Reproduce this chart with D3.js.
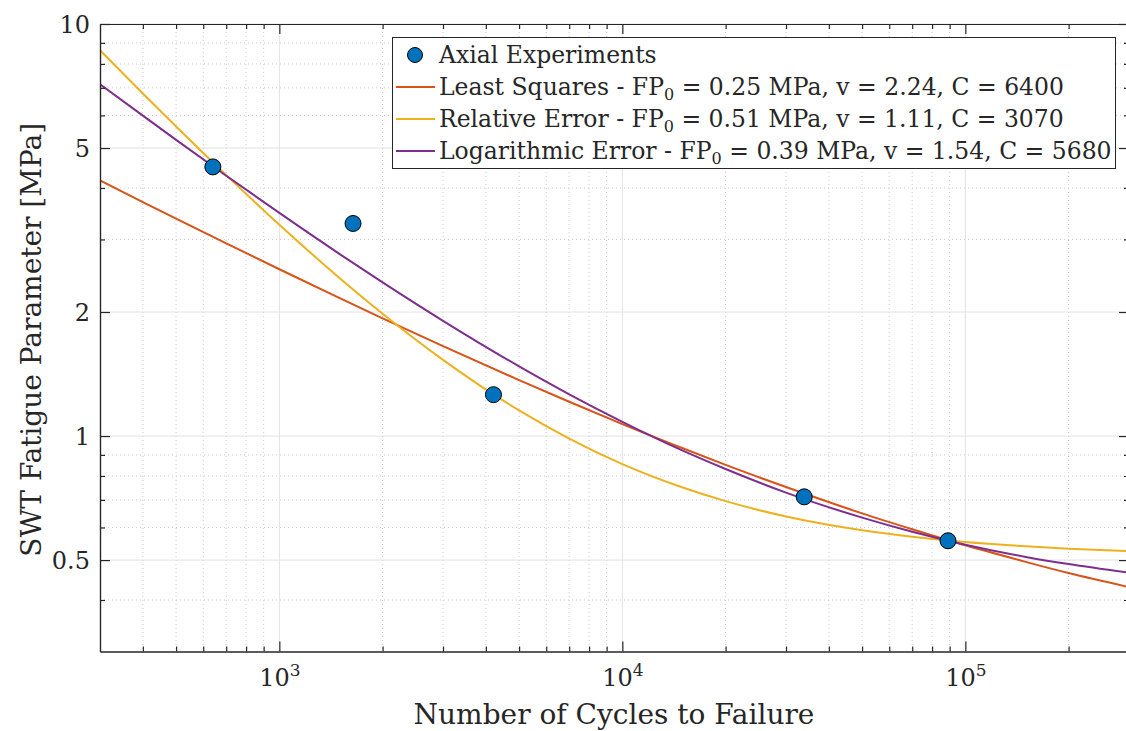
<!DOCTYPE html>
<html>
<head>
<meta charset="utf-8">
<script src="https://cdn.jsdelivr.net/npm/d3@7"></script>
<style>
  html, body { margin: 0; padding: 0; background: #fff; }
  svg { display: block; }
  text { font-family: "DejaVu Serif", "Liberation Serif", serif; fill: #262626; }
</style>
</head>
<body>
<svg id="chart" width="1126" height="731"></svg>
<script>
// ---------------- data ----------------
const expCycles = [640, 1640, 4210, 33900, 89000];
const expFP     = [4.50, 3.28, 1.26, 0.712, 0.557];

const curveCycles   = [300, 400, 500, 700, 1000, 1500, 2000, 3000, 5000, 7000, 10000, 15000, 20000, 30000, 50000, 70000, 100000, 150000, 200000, 300000];
const leastSquares  = [4.171, 3.698, 3.371, 2.936, 2.540, 2.161, 1.931, 1.653, 1.367, 1.211, 1.069, 0.934, 0.851, 0.752, 0.649, 0.594, 0.543, 0.495, 0.465, 0.430];
const relativeError = [8.637, 6.781, 5.640, 4.298, 3.257, 2.416, 1.981, 1.531, 1.154, 0.986, 0.855, 0.750, 0.695, 0.638, 0.591, 0.570, 0.553, 0.540, 0.533, 0.526];
const logError      = [7.141, 5.991, 5.235, 4.284, 3.479, 2.764, 2.360, 1.904, 1.476, 1.263, 1.083, 0.922, 0.832, 0.729, 0.634, 0.586, 0.545, 0.509, 0.489, 0.466];

const xMajorTicks = [1e3, 1e4, 1e5];
const xMajorExp   = ["3", "4", "5"];
const xMinorTicks = [400, 500, 600, 700, 800, 900, 2000, 3000, 4000, 5000, 6000, 7000, 8000, 9000,
                     20000, 30000, 40000, 50000, 60000, 70000, 80000, 90000, 200000];
const yMajorTicks = [0.5, 1, 2, 5, 10];
const yMajorLabels = ["0.5", "1", "2", "5", "10"];
const yMinorTicks = [0.4, 0.6, 0.7, 0.8, 0.9, 3, 4, 6, 7, 8, 9];

const legendLabels = [
  {name: "Axial Experiments", type: "marker"},
  {name: "Least Squares - FP", sub: "0", rest: " = 0.25 MPa, v = 2.24, C = 6400", type: "line", key: "ls"},
  {name: "Relative Error - FP", sub: "0", rest: " = 0.51 MPa, v = 1.11, C = 3070", type: "line", key: "re"},
  {name: "Logarithmic Error - FP", sub: "0", rest: " = 0.39 MPa, v = 1.54, C = 5680", type: "line", key: "le"}
];
const colors = {ls: "#D95319", re: "#EDB120", le: "#7E2F8E", marker: "#0072BD"};

// ---------------- layout ----------------
const svg = d3.select("#chart");
const L = 100, R = 1129, T = 24, B = 651.5;

const x = d3.scaleLog().domain([300, 3e5]).range([L, R]);
const y = d3.scaleLog().domain([0.3, 10]).range([B, T]);

svg.append("defs").append("clipPath").attr("id", "clip")
  .append("rect").attr("x", L).attr("y", T).attr("width", R - L).attr("height", B - T);

// grid
const grid = svg.append("g");
grid.selectAll(".gxm").data(xMinorTicks).enter().append("line")
  .attr("x1", d => x(d)).attr("x2", d => x(d)).attr("y1", T).attr("y2", B)
  .attr("stroke", "#cccccc").attr("stroke-width", 1).attr("stroke-dasharray", "1,3");
grid.selectAll(".gym").data(yMinorTicks).enter().append("line")
  .attr("y1", d => y(d)).attr("y2", d => y(d)).attr("x1", L).attr("x2", R)
  .attr("stroke", "#cccccc").attr("stroke-width", 1).attr("stroke-dasharray", "1,3");
grid.selectAll(".gxM").data(xMajorTicks).enter().append("line")
  .attr("x1", d => x(d)).attr("x2", d => x(d)).attr("y1", T).attr("y2", B)
  .attr("stroke", "#e2e2e2").attr("stroke-width", 1);
grid.selectAll(".gyM").data(yMajorTicks).enter().append("line")
  .attr("y1", d => y(d)).attr("y2", d => y(d)).attr("x1", L).attr("x2", R)
  .attr("stroke", "#e2e2e2").attr("stroke-width", 1);

// curves
const plot = svg.append("g").attr("clip-path", "url(#clip)");
const line = d3.line().x(d => x(d[0])).y(d => y(d[1])).curve(d3.curveMonotoneX);
[["ls", leastSquares], ["re", relativeError], ["le", logError]].forEach(([k, vals]) => {
  plot.append("path")
    .datum(curveCycles.map((c, i) => [c, vals[i]]))
    .attr("d", line).attr("fill", "none")
    .attr("stroke", colors[k]).attr("stroke-width", 2);
});

// points
plot.selectAll(".pt").data(expCycles.map((c, i) => [c, expFP[i]])).enter().append("circle")
  .attr("cx", d => x(d[0])).attr("cy", d => y(d[1])).attr("r", 8)
  .attr("fill", colors.marker).attr("stroke", "#000").attr("stroke-width", 1);

// axes (ticks inward)
function styleAxis(g) {
  g.select(".domain").attr("stroke", "#262626").attr("stroke-width", 1.2);
  g.selectAll(".tick line").attr("stroke", "#262626").attr("stroke-width", 1.2);
}
const ax = svg.append("g");
ax.append("g").attr("transform", `translate(0,${B})`)
  .call(d3.axisBottom(x).tickValues(xMinorTicks).tickSize(-5).tickFormat("").tickSizeOuter(0)).call(styleAxis);
ax.append("g").attr("transform", `translate(0,${T})`)
  .call(d3.axisTop(x).tickValues(xMinorTicks).tickSize(-5).tickFormat("").tickSizeOuter(0)).call(styleAxis);
ax.append("g").attr("transform", `translate(${L},0)`)
  .call(d3.axisLeft(y).tickValues(yMinorTicks).tickSize(-5).tickFormat("").tickSizeOuter(0)).call(styleAxis);
ax.append("g").attr("transform", `translate(${R},0)`)
  .call(d3.axisRight(y).tickValues(yMinorTicks).tickSize(-5).tickFormat("").tickSizeOuter(0)).call(styleAxis);
ax.append("g").attr("transform", `translate(0,${T})`)
  .call(d3.axisTop(x).tickValues(xMajorTicks).tickSize(-10).tickFormat("").tickSizeOuter(0)).call(styleAxis);
ax.append("g").attr("transform", `translate(${R},0)`)
  .call(d3.axisRight(y).tickValues(yMajorTicks).tickSize(-10).tickFormat("").tickSizeOuter(0)).call(styleAxis);

const xAxisG = ax.append("g").attr("transform", `translate(0,${B})`)
  .call(d3.axisBottom(x).tickValues(xMajorTicks).tickSize(-10).tickSizeOuter(0)
    .tickFormat((d, i) => "10")).call(styleAxis);
xAxisG.selectAll(".tick text").each(function(d, i) {
  const t = d3.select(this);
  t.text(null).attr("y", 34).attr("dy", 0).attr("text-anchor", "middle")
   .attr("font-size", 24).attr("font-family", null).attr("fill", "#262626");
  t.append("tspan").text("10");
  t.append("tspan").text(xMajorExp[i]).attr("font-size", 17).attr("dy", -10);
});

const yAxisG = ax.append("g").attr("transform", `translate(${L},0)`)
  .call(d3.axisLeft(y).tickValues(yMajorTicks).tickSize(-10).tickPadding(10).tickSizeOuter(0)
    .tickFormat((d, i) => yMajorLabels[i])).call(styleAxis);
yAxisG.selectAll(".tick text").attr("font-size", 24).attr("font-family", null)
  .attr("fill", "#262626").attr("dy", "0.36em");

// axis labels
svg.append("text").attr("x", 614).attr("y", 724).attr("text-anchor", "middle")
  .attr("font-size", 28).text("Number of Cycles to Failure");
svg.append("text").attr("transform", `translate(41,${(T + B) / 2 + 2}) rotate(-90)`)
  .attr("text-anchor", "middle").attr("font-size", 28).text("SWT Fatigue Parameter [MPa]");

// legend
const lg = svg.append("g");
lg.append("rect").attr("x", 392.5).attr("y", 37.5).attr("width", 723).attr("height", 131)
  .attr("fill", "#fff").attr("stroke", "#262626").attr("stroke-width", 1);
const rowY = d3.scaleLinear().domain([0, 3]).range([55, 151]);
legendLabels.forEach((it, i) => {
  const cy = rowY(i);
  if (it.type === "marker") {
    lg.append("circle").attr("cx", 415).attr("cy", cy).attr("r", 7.5)
      .attr("fill", colors.marker).attr("stroke", "#000").attr("stroke-width", 1);
  } else {
    lg.append("line").attr("x1", 396).attr("x2", 435).attr("y1", cy).attr("y2", cy)
      .attr("stroke", colors[it.key]).attr("stroke-width", 2);
  }
  const t = lg.append("text").attr("x", 439).attr("y", cy + 8).attr("font-size", 23.5);
  t.append("tspan").text(it.name);
  if (it.sub) {
    t.append("tspan").text(it.sub).attr("font-size", 16).attr("dy", 5);
    t.append("tspan").text(it.rest).attr("dy", -5);
  }
});
</script>
</body>
</html>
